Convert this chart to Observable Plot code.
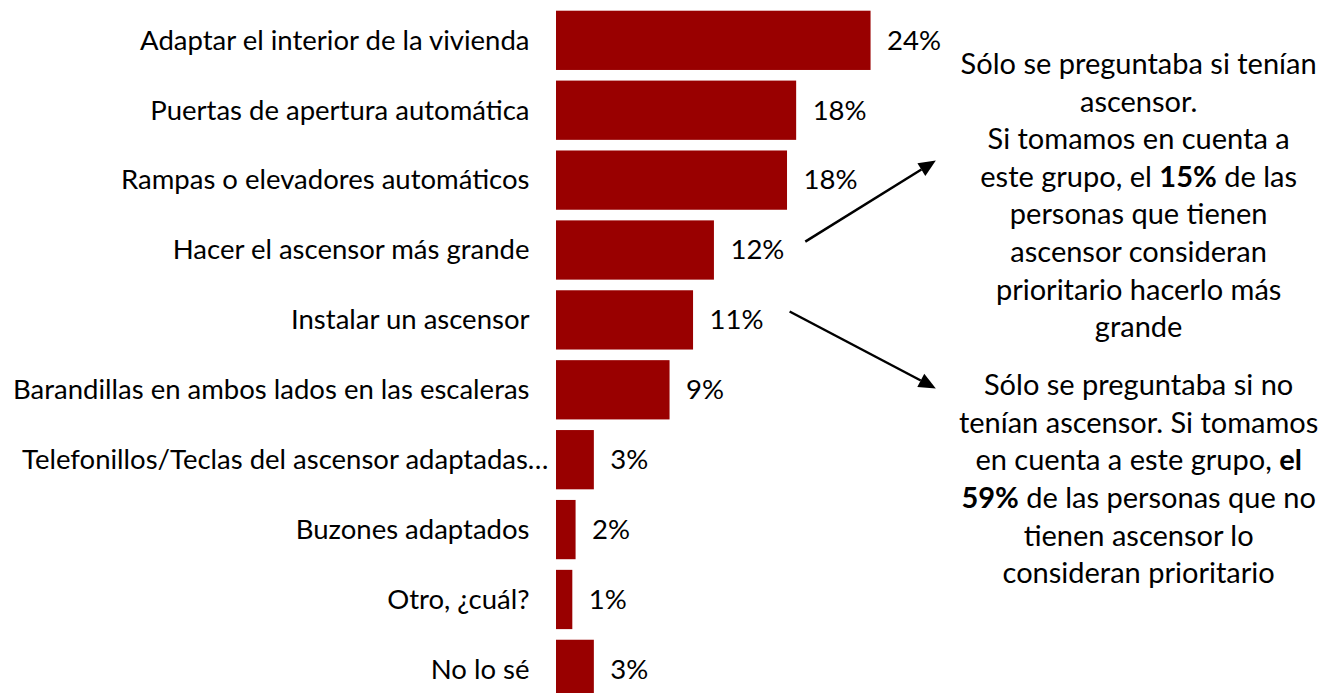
<!DOCTYPE html>
<html><head><meta charset="utf-8">
<script src="https://cdn.jsdelivr.net/npm/d3@7"></script>
<script src="https://cdn.jsdelivr.net/npm/@observablehq/plot@0.6"></script>
<style>
html,body{margin:0;padding:0;background:#fff;overflow:hidden;}
</style></head><body><div id="chart"></div>
<script>
const categories = [
  "Adaptar el interior de la vivienda",
  "Puertas de apertura automática",
  "Rampas o elevadores automáticos",
  "Hacer el ascensor más grande",
  "Instalar un ascensor",
  "Barandillas en ambos lados en las escaleras",
  "Telefonillos/Teclas del ascensor adaptadas…",
  "Buzones adaptados",
  "Otro, ¿cuál?",
  "No lo sé"
];
const values = [24.1, 18.4, 17.7, 12.1, 10.5, 8.7, 2.9, 1.5, 1.25, 2.9];
const valueLabels = ["24%", "18%", "18%", "12%", "11%", "9%", "3%", "2%", "1%", "3%"];

// annotation texts (**bold**)
const note1 = [
  "Sólo se preguntaba si tenían",
  "ascensor.",
  "Si tomamos en cuenta a",
  "este grupo, el **15%** de las",
  "personas que tienen",
  "ascensor consideran",
  "prioritario hacerlo más",
  "grande"
];
const note2 = [
  "Sólo se preguntaba si no",
  "tenían ascensor. Si tomamos",
  "en cuenta a este grupo, **el**",
  "**59%** de las personas que no",
  "tienen ascensor lo",
  "consideran prioritario"
];

const data = categories.map((c, i) => ({category: c, value: values[i], label: valueLabels[i]}));
const strip = s => s.replace(/\*\*/g, "");
const notes = [
  {text: note1.map(strip).join("\n"), x: 44.6, y: categories[2]},
  {text: note2.map(strip).join("\n"), x: 44.6, y: categories[6]}
];
// arrows: x in %, y in fractional row index
const arrows = [
  {x1: 19.1, r1: 2.88, x2: 29.1, r2: 1.72},
  {x1: 17.9, r1: 3.88, x2: 29.1, r2: 4.98}
];

const FS = 27.5, FSN = 29;
const plot = Plot.plot({
  width: 1330,
  height: 693,
  marginLeft: 556,
  marginRight: 0,
  marginTop: 0,
  marginBottom: 0,
  style: {fontFamily: "Lato, Carlito, sans-serif", fontSize: FS + "px", color: "#000", background: "#fff"},
  x: {domain: [0, 59.3], axis: null},
  y: {domain: categories, range: [0, 709.7], paddingInner: 0.152, paddingOuter: 0.153, round: false, axis: null},
  marks: [
    Plot.barX(data, {x: "value", y: "category", fill: "#990000"}),
    Plot.text(data, {x: "value", y: "category", text: "label", dx: 16, textAnchor: "start", fontSize: FS, fill: "#000"}),
    Plot.axisY({tickSize: 0, tickPadding: 27, fontSize: FS, label: null, fill: "#000"}),
    Plot.text(notes, {x: "x", y: "y", dy: 13, text: "text", textAnchor: "middle", lineHeight: 1.297, fontSize: FSN, fill: "#000", filter: (d, i) => i === 0}),
    Plot.text(notes, {x: "x", y: "y", dy: 17, text: "text", textAnchor: "middle", lineHeight: 1.297, fontSize: FSN, fill: "#000", filter: (d, i) => i === 1})
  ]
});
document.getElementById("chart").appendChild(plot);

// bold segments
const marked = [...note1, ...note2].filter(s => s.includes("**"));
plot.querySelectorAll("tspan").forEach(t => {
  const m = marked.find(s => strip(s) === t.textContent);
  if (m) {
    t.innerHTML = m.replace(/\*\*(.+?)\*\*/g, '<tspan font-weight="bold">$1</tspan>');
  }
});
// the truncated label overhangs towards the bar as in the original
plot.querySelectorAll("text").forEach(t => {
  if (t.textContent === categories[6]) t.setAttribute("dx", 19);
});

// arrows drawn with the plot's own scales
const xs = plot.scale("x"), ys = plot.scale("y");
const rowY = r => ys.apply(categories[0]) + ys.bandwidth / 2 + r * ys.step;
const svg = d3.select(plot);
const g = svg.append("g");
arrows.forEach(a => {
  const X1 = xs.apply(a.x1), Y1 = rowY(a.r1), X2 = xs.apply(a.x2), Y2 = rowY(a.r2);
  const ang = Math.atan2(Y2 - Y1, X2 - X1);
  const L = 17, W = 7.5;
  const bx = X2 - L * Math.cos(ang), by = Y2 - L * Math.sin(ang);
  g.append("line").attr("x1", X1).attr("y1", Y1).attr("x2", bx).attr("y2", by)
    .attr("stroke", "#000").attr("stroke-width", 2.5);
  const px = -Math.sin(ang) * W, py = Math.cos(ang) * W;
  g.append("path")
    .attr("d", `M${X2},${Y2}L${bx + px},${by + py}L${bx - px},${by - py}Z`)
    .attr("fill", "#000");
});
</script></body></html>
